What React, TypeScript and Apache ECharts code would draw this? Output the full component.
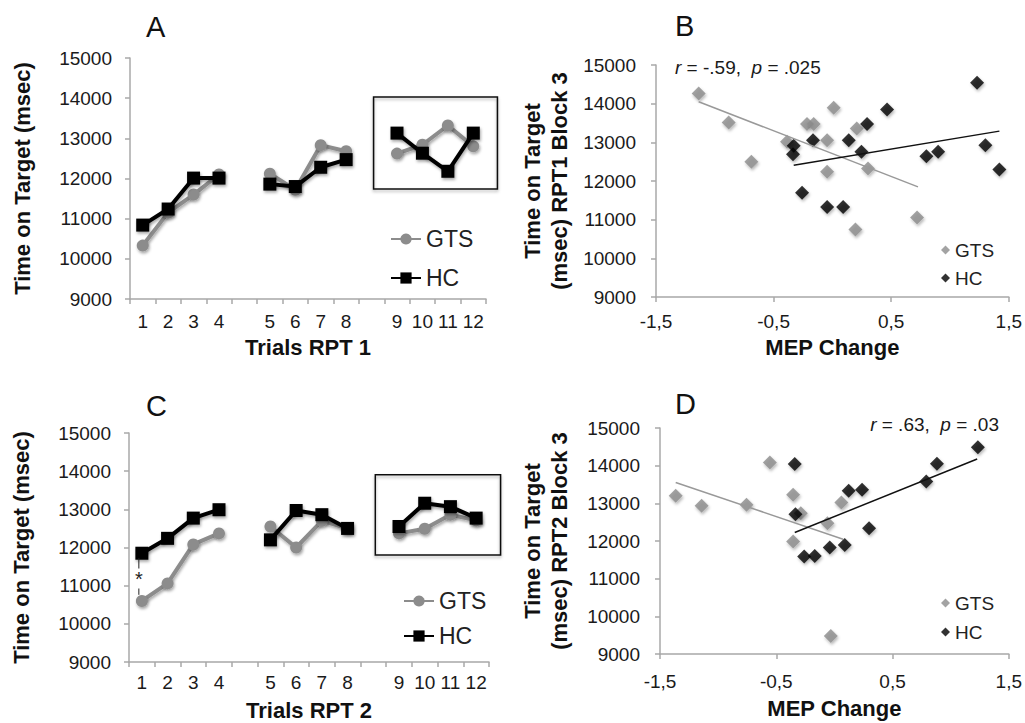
import React, { useEffect, useRef } from "react";
import * as echarts from "echarts";

const categories = ["1", "2", "3", "4", "", "5", "6", "7", "8", "", "9", "10", "11", "12"];
const gtsRpt1 = [10330, 11150, 11600, 12100, null, 12120, 11720, 12830, 12680, null, 12620, 12840, 13320, 12800];
const hcRpt1 = [10840, 11240, 12010, 12010, null, 11860, 11800, 12280, 12470, null, 13130, 12630, 12180, 13130];
const gtsRpt2 = [10600, 11060, 12080, 12370, null, 12550, 12000, 12700, 12500, null, 12370, 12490, 12860, 12710];
const hcRpt2 = [11850, 12240, 12770, 12990, null, 12200, 12970, 12860, 12500, null, 12550, 13160, 13070, 12770];

const gtsB = [
  [-1.137, 14266], [-0.882, 13515], [-0.689, 12496], [-0.386, 13014], [-0.216, 13471], [-0.159, 13471],
  [-0.045, 13057], [0.011, 13895], [-0.045, 12237], [0.196, 10743], [0.207, 13359], [0.303, 12323], [0.72, 11054],
];
const hcB = [
  [-0.329, 12910], [-0.335, 12694], [-0.165, 13057], [-0.258, 11693], [-0.045, 11330], [0.091, 11330],
  [0.139, 13057], [0.247, 12755], [0.295, 13471], [0.465, 13851], [0.799, 12642], [0.899, 12755],
  [1.23, 14542], [1.301, 12927], [1.42, 12297],
];
const gtsTrendB = [[-1.137, 14050], [0.728, 11848]];
const hcTrendB = [[-0.329, 12409], [1.42, 13290]];

const gtsD = [
  [-1.365, 13200], [-1.142, 12934], [-0.756, 12961], [-0.555, 14087], [-0.355, 13227], [-0.289, 12739],
  [-0.355, 11986], [-0.06, 12473], [0.06, 13023], [-0.031, 9477],
];
const hcD = [
  [-0.341, 14043], [-0.335, 12713], [-0.26, 11587], [-0.169, 11605], [-0.04, 11826], [0.089, 11897],
  [0.123, 13333], [0.238, 13360], [0.298, 12340], [0.79, 13582], [0.882, 14052], [1.234, 14486],
];
const gtsTrendD = [[-1.365, 13555], [0.075, 12048]];
const hcTrendD = [[-0.341, 12225], [1.228, 14176]];

const yTicks = { min: 9000, max: 15000, interval: 1000 };
const mepTicks = [-1.5, -0.5, 0.5, 1.5];

const FONT = "'Liberation Sans', Arial, Helvetica, sans-serif";
const GRAY = "#8c8c8c";
const AXIS = "#a8a8a8";
const LABEL = "#1a1a1a";

function yAxisFor(gridIndex: number, name: string, nameGap: number, margin: number) {
  return {
    type: "value",
    gridIndex,
    ...yTicks,
    name,
    nameLocation: "middle",
    nameGap,
    nameRotate: 90,
    nameTextStyle: { fontFamily: FONT, fontSize: 22, fontWeight: "bold", color: "#111", lineHeight: 27 },
    axisLine: { show: true, onZero: false, lineStyle: { color: AXIS, width: 1.5 } },
    axisTick: { show: true, length: 5, lineStyle: { color: AXIS, width: 1.5 } },
    splitLine: { show: false },
    axisLabel: { fontFamily: FONT, fontSize: 19, color: LABEL, margin, formatter: (v: number) => String(v) },
  };
}

function catAxis(gridIndex: number, name: string, nameGap: number, margin: number) {
  return {
    type: "category",
    gridIndex,
    data: categories,
    boundaryGap: true,
    name,
    nameLocation: "middle",
    nameGap,
    nameTextStyle: { fontFamily: FONT, fontSize: 22, fontWeight: "bold", color: "#111" },
    axisLine: { show: true, onZero: false, lineStyle: { color: AXIS, width: 1.5 } },
    axisTick: { show: true, interval: 0, length: 5, lineStyle: { color: AXIS, width: 1.5 } },
    axisLabel: { interval: 0, fontFamily: FONT, fontSize: 19, color: LABEL, margin },
  };
}

function mepAxis(gridIndex: number, nameGap: number, margin: number) {
  return {
    type: "value",
    gridIndex,
    min: -1.5,
    max: 1.5,
    name: "MEP Change",
    nameLocation: "middle",
    nameGap,
    nameTextStyle: { fontFamily: FONT, fontSize: 22, fontWeight: "bold", color: "#111" },
    axisLine: { show: true, onZero: false, lineStyle: { color: AXIS, width: 1.5 } },
    axisTick: { show: true, length: 5, customValues: mepTicks, lineStyle: { color: AXIS, width: 1.5 } },
    splitLine: { show: false },
    axisLabel: {
      fontFamily: FONT,
      fontSize: 19,
      color: LABEL,
      margin,
      customValues: mepTicks,
      formatter: (v: number) => String(v).replace(".", ","),
    },
  };
}

const shadow = { shadowBlur: 3, shadowColor: "rgba(0,0,0,0.35)", shadowOffsetX: 1, shadowOffsetY: 2 };

function lineSeries(name: string, idx: number, data: any[], isHC: boolean) {
  return {
    name,
    type: "line",
    xAxisIndex: idx,
    yAxisIndex: idx,
    data,
    connectNulls: false,
    symbol: isHC ? "rect" : "circle",
    symbolSize: isHC ? 13 : 12,
    z: isHC ? 3 : 2,
    lineStyle: { color: isHC ? "#000" : GRAY, width: 4, ...shadow },
    itemStyle: { color: isHC ? "#000" : GRAY, ...shadow },
  };
}

function scatterSeries(name: string, idx: number, data: any[], isHC: boolean) {
  return {
    name,
    type: "scatter",
    xAxisIndex: idx,
    yAxisIndex: idx,
    data,
    symbol: "diamond",
    symbolSize: 14,
    z: isHC ? 3 : 2,
    itemStyle: { color: isHC ? "#000" : GRAY, ...shadow },
  };
}

function trendSeries(idx: number, data: any[], isHC: boolean) {
  return {
    type: "line",
    xAxisIndex: idx,
    yAxisIndex: idx,
    data,
    showSymbol: false,
    symbol: "none",
    z: 4,
    silent: true,
    lineStyle: { color: isHC ? "#111" : "#999", width: 1.5 },
  };
}

const legendName = (n: string) => n.split(":")[1];

export default function App() {
  const ref = useRef<HTMLDivElement>(null);
  useEffect(() => {
    if (!ref.current) return;
    const chart = echarts.init(ref.current, null, { renderer: "svg" });
    const option: any = {
      animation: false,
      backgroundColor: "#fff",
      title: [
        { text: "A", left: 146, top: 12, padding: 0, textStyle: { fontFamily: FONT, fontSize: 29, fontWeight: "normal", color: "#111" } },
        { text: "B", left: 675, top: 11, padding: 0, textStyle: { fontFamily: FONT, fontSize: 29, fontWeight: "normal", color: "#111" } },
        { text: "C", left: 146, top: 391, padding: 0, textStyle: { fontFamily: FONT, fontSize: 29, fontWeight: "normal", color: "#111" } },
        { text: "D", left: 675, top: 389, padding: 0, textStyle: { fontFamily: FONT, fontSize: 29, fontWeight: "normal", color: "#111" } },
      ],
      grid: [
        { left: 130, top: 58, width: 356, height: 241 },
        { left: 656, top: 65, width: 353, height: 232 },
        { left: 129, top: 433, width: 360, height: 229 },
        { left: 660, top: 428, width: 350, height: 226 },
      ],
      xAxis: [
        catAxis(0, "Trials RPT 1", 37, 13),
        mepAxis(1, 39, 15),
        catAxis(2, "Trials RPT 2", 37, 11),
        mepAxis(3, 43, 18),
      ],
      yAxis: [
        yAxisFor(0, "Time on Target (msec)", 94, 18),
        yAxisFor(1, "Time on Target\n(msec) RPT1 Block 3", 83, 20),
        yAxisFor(2, "Time on Target (msec)", 94, 18),
        yAxisFor(3, "Time on Target\n(msec) RPT2 Block 3", 87, 20),
      ],
      legend: [
        {
          data: ["A:GTS", "A:HC"], formatter: legendName, orient: "vertical", left: 390, top: 226,
          itemWidth: 30, itemHeight: 14, itemGap: 13, padding: 0, selectedMode: false,
          textStyle: { fontFamily: FONT, fontSize: 23, color: "#222", lineHeight: 26 },
        },
        {
          data: ["B:GTS", "B:HC"], formatter: legendName, orient: "vertical", left: 941, top: 240,
          itemWidth: 9, itemHeight: 9, itemGap: 8, padding: 0, selectedMode: false, icon: "diamond",
          textStyle: { fontFamily: FONT, fontSize: 19, color: "#222", lineHeight: 20 },
        },
        {
          data: ["C:GTS", "C:HC"], formatter: legendName, orient: "vertical", left: 403, top: 588,
          itemWidth: 30, itemHeight: 14, itemGap: 9, padding: 0, selectedMode: false,
          textStyle: { fontFamily: FONT, fontSize: 23, color: "#222", lineHeight: 26 },
        },
        {
          data: ["D:GTS", "D:HC"], formatter: legendName, orient: "vertical", left: 941, top: 593,
          itemWidth: 9, itemHeight: 9, itemGap: 9, padding: 0, selectedMode: false, icon: "diamond",
          textStyle: { fontFamily: FONT, fontSize: 19, color: "#222", lineHeight: 20 },
        },
      ],
      series: [
        lineSeries("A:GTS", 0, gtsRpt1, false),
        lineSeries("A:HC", 0, hcRpt1, true),
        scatterSeries("B:GTS", 1, gtsB, false),
        scatterSeries("B:HC", 1, hcB, true),
        trendSeries(1, gtsTrendB, false),
        trendSeries(1, hcTrendB, true),
        lineSeries("C:GTS", 2, gtsRpt2, false),
        lineSeries("C:HC", 2, hcRpt2, true),
        scatterSeries("D:GTS", 3, gtsD, false),
        scatterSeries("D:HC", 3, hcD, true),
        trendSeries(3, gtsTrendD, false),
        trendSeries(3, hcTrendD, true),
      ],
    };
    chart.setOption(option);

    const px = (g: number, v: [number, number]) =>
      chart.convertToPixel({ xAxisIndex: g, yAxisIndex: g }, v) as number[];
    const boxFor = (g: number, top: number, bottom: number) => {
      const a = px(g, [9, top]);
      const b = px(g, [13, bottom]);
      const step = px(g, [13, top])[0] - px(g, [12, top])[0];
      const x0 = a[0] + 2;
      const x1 = b[0] + step * 0.95;
      return {
        type: "rect",
        shape: { x: x0, y: a[1], width: x1 - x0, height: b[1] - a[1] },
        style: { fill: "none", stroke: "#111", lineWidth: 1.5, shadowBlur: 3, shadowColor: "rgba(0,0,0,0.3)", shadowOffsetY: 2 },
        z: 10,
      };
    };
    const c1a = px(2, [0, 11720]);
    const c1b = px(2, [0, 10760]);
    const annoStyle = {
      fontFamily: FONT,
      fontSize: 19,
      fill: "#1a1a1a",
    };
    chart.setOption({
      graphic: [
        boxFor(0, 14030, 11740),
        boxFor(2, 13905, 11804),
        {
          type: "line",
          shape: { x1: c1a[0] - 3, y1: c1a[1], x2: c1b[0] - 3, y2: c1b[1] },
          style: { stroke: "#222", lineWidth: 1 },
          z: 10,
        },
        {
          type: "text",
          x: c1a[0] - 3,
          y: (c1a[1] + c1b[1]) / 2 + 2,
          style: { text: "*", fontFamily: FONT, fontSize: 20, fill: "#222", align: "center", verticalAlign: "middle", backgroundColor: "#fff" },
          z: 11,
        },
        {
          type: "text",
          x: 675,
          y: 67,
          style: {
            ...annoStyle,
            text: "{i|r} = -.59,  {i|p} = .025",
            verticalAlign: "middle",
            align: "left",
            rich: { i: { fontStyle: "italic", fontFamily: FONT, fontSize: 19, fill: "#1a1a1a" } },
          },
          z: 10,
        },
        {
          type: "text",
          x: 999,
          y: 424,
          style: {
            ...annoStyle,
            text: "{i|r} = .63,  {i|p} = .03",
            verticalAlign: "middle",
            align: "right",
            rich: { i: { fontStyle: "italic", fontFamily: FONT, fontSize: 19, fill: "#1a1a1a" } },
          },
          z: 10,
        },
      ],
    });
    return () => chart.dispose();
  }, []);
  return <div ref={ref} style={{ position: "fixed", left: 0, top: 0, width: 1025, height: 723, background: "#fff" }} />;
}
